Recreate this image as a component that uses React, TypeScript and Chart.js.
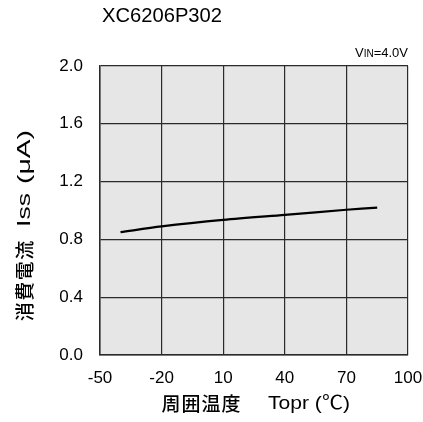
import React, { useEffect, useRef } from "react";
import { Chart, registerables } from "chart.js";

Chart.register(...registerables);

const temps: number[] = [-40, -20, 10, 40, 70, 85];
const iss: number[] = [0.85, 0.89, 0.935, 0.97, 1.005, 1.02];
const xTicks: number[] = [-50, -20, 10, 40, 70, 100];
const yTicks: number[] = [0.0, 0.4, 0.8, 1.2, 1.6, 2.0];
const title = "XC6206P302";
const xTitleJa = "周囲温度";
const xTitleEn = "Topr (℃)";
const yTitleJa = "消費電流";
const yTitleEn = "Iss";
const yTitleUnit = "(μA)";

const SANS = '"Liberation Sans", Arial, sans-serif';
const CJK = '"Noto Sans CJK JP", "Liberation Sans", sans-serif';
const MIX = '"Liberation Sans", "Noto Sans CJK JP", sans-serif';

function fitText(ctx: any, text: string, x: number, y: number, width: number) {
  const w = ctx.measureText(text).width;
  ctx.save();
  ctx.translate(x, y);
  ctx.scale(width / w, 1);
  ctx.fillText(text, 0, 0);
  ctx.restore();
}

function spacedChars(ctx: any, text: string, x: number, y: number, width: number) {
  const chars = Array.from(text);
  const step = width / chars.length;
  chars.forEach((c, i) => {
    const cw = ctx.measureText(c).width;
    ctx.fillText(c, x + i * step + (step - cw) / 2, y);
  });
}

const textPlugin = {
  id: "texts",
  beforeDraw(chart: any) {
    const { ctx, chartArea } = chart;
    ctx.save();
    ctx.fillStyle = "#e6e6e6";
    ctx.fillRect(chartArea.left, chartArea.top, chartArea.right - chartArea.left, chartArea.bottom - chartArea.top);
    ctx.restore();
  },
  afterDraw(chart: any) {
    const { ctx, chartArea } = chart;
    ctx.save();
    ctx.fillStyle = "#000";
    ctx.textBaseline = "middle";
    // title
    ctx.font = `20px ${SANS}`;
    ctx.textAlign = "left";
    fitText(ctx, title, 102, 16, 120);
    // VIN=4.0V
    ctx.textBaseline = "alphabetic";
    const base = 57;
    ctx.font = `13px ${SANS}`;
    const rest = "=4.0V";
    const wRest = ctx.measureText(rest).width;
    ctx.font = `10px ${SANS}`;
    const wIN = ctx.measureText("IN").width;
    ctx.font = `13px ${SANS}`;
    const wV = ctx.measureText("V").width;
    let x = chartArea.right - (wV + wIN + wRest);
    ctx.fillText("V", x, base);
    x += wV;
    ctx.font = `10px ${SANS}`;
    ctx.fillText("IN", x, base);
    x += wIN;
    ctx.font = `13px ${SANS}`;
    ctx.fillText(rest, x, base);
    // x title
    ctx.textBaseline = "middle";
    ctx.textAlign = "left";
    ctx.font = `500 19px ${CJK}`;
    spacedChars(ctx, xTitleJa, 161, 404, 80);
    ctx.font = `19px ${MIX}`;
    fitText(ctx, xTitleEn, 268, 404, 82);
    // y title (rotated): x' = -y
    ctx.translate(25, 0);
    ctx.rotate(-Math.PI / 2);
    ctx.font = `500 19px ${CJK}`;
    spacedChars(ctx, yTitleJa, -322, 0, 82);
    ctx.font = `19px ${SANS}`;
    fitText(ctx, yTitleEn, -227, 0, 34);
    ctx.font = `19px ${MIX}`;
    fitText(ctx, yTitleUnit, -184, 0, 54);
    ctx.restore();
  },
};

export default function App() {
  const ref = useRef<HTMLCanvasElement | null>(null);
  useEffect(() => {
    document.body.style.margin = "0";
    const canvas = ref.current!;
    const chart = new Chart(canvas, {
      type: "line",
      data: {
        datasets: [
          {
            data: temps.map((t, i) => ({ x: t, y: iss[i] })),
            borderColor: "#000",
            borderWidth: 2.2,
            pointRadius: 0,
            tension: 0.3,
            fill: false,
          },
        ],
      },
      options: {
        animation: false,
        responsive: false,
        maintainAspectRatio: false,
        layout: { padding: { left: 0, top: 66, right: 15, bottom: 0 } },
        plugins: { legend: { display: false }, tooltip: { enabled: false }, title: { display: false } },
        scales: {
          x: {
            type: "linear",
            min: -50,
            max: 100,
            afterBuildTicks: (s: any) => {
              s.ticks = xTicks.map((v) => ({ value: v }));
            },
            afterFit: (s: any) => {
              s.height = 67;
              s.paddingLeft = 0;
              s.paddingRight = 0;
            },
            grid: { color: "#2a2a2a", lineWidth: 1.2, drawTicks: false },
            border: { color: "#2a2a2a", width: 1.5 },
            ticks: {
              padding: 13,
              color: "#000",
              font: { family: SANS, size: 17 },
              maxRotation: 0,
              callback: (v: any) => String(v),
            },
          },
          y: {
            type: "linear",
            min: 0,
            max: 2,
            afterBuildTicks: (s: any) => {
              s.ticks = yTicks.map((v) => ({ value: v }));
            },
            afterFit: (s: any) => {
              s.width = 100;
              s.paddingTop = 0;
              s.paddingBottom = 0;
            },
            grid: { color: "#2a2a2a", lineWidth: 1.2, drawTicks: false },
            border: { color: "#2a2a2a", width: 1.5 },
            ticks: {
              padding: 17,
              color: "#000",
              font: { family: SANS, size: 17 },
              callback: (v: any) => Number(v).toFixed(1),
            },
          },
        },
      },
      plugins: [textPlugin],
    });
    return () => chart.destroy();
  }, []);
  return (
    <div style={{ position: "absolute", left: 0, top: 0, width: 423, height: 422, background: "#fff" }}>
      <canvas ref={ref} width={423} height={422} style={{ display: "block", width: 423, height: 422 }} />
    </div>
  );
}
